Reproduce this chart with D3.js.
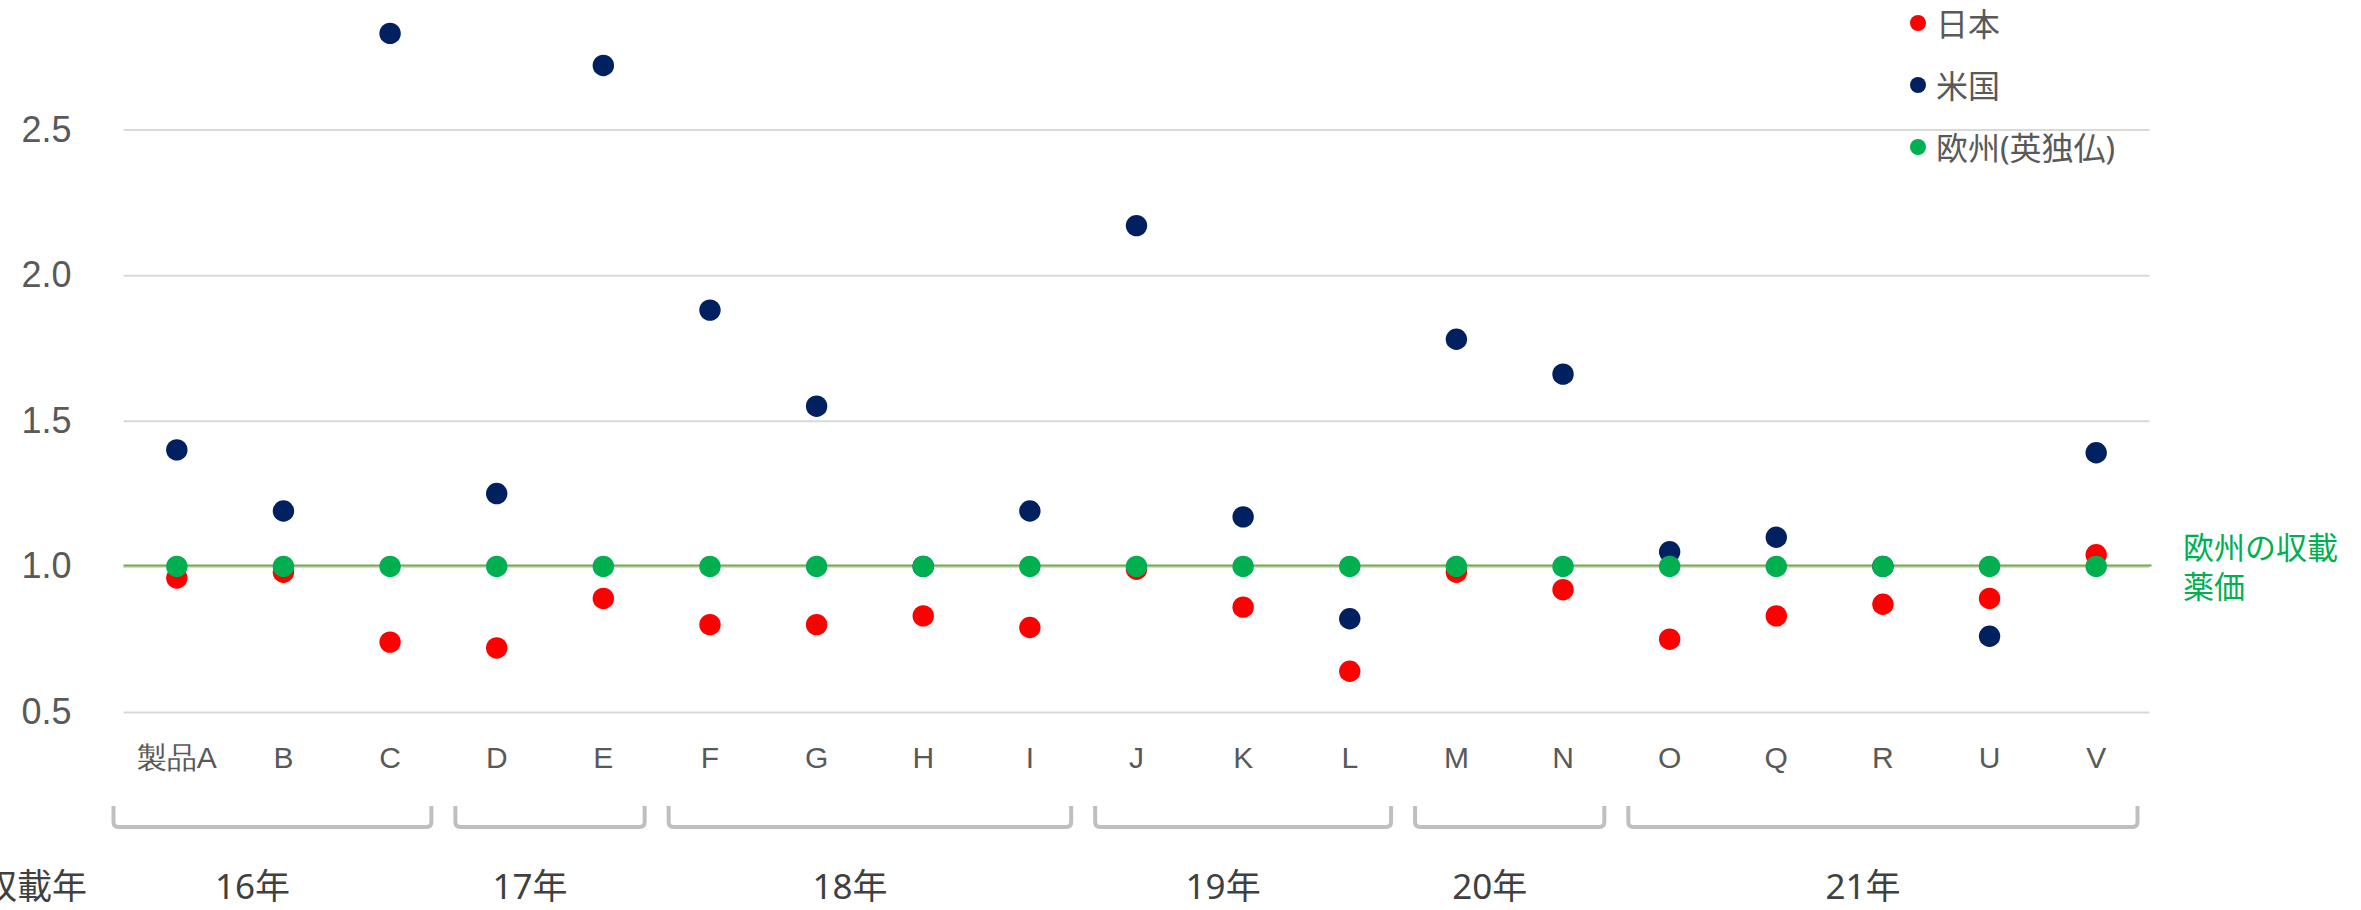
<!DOCTYPE html>
<html>
<head>
<meta charset="utf-8">
<script src="https://cdn.jsdelivr.net/npm/d3@7"></script>
<style>
  body { margin: 0; background: white; }
  svg { display: block; font-family: "Noto Sans", "Noto Sans CJK JP", sans-serif; }
</style>
</head>
<body>
<div id="chart"></div>
<script>
// products on the x axis
var products = ['製品A','B','C','D','E','F','G','H','I','J','K','L','M','N','O','Q','R','U','V'];

// price ratio, Europe = 1.0
var japan  = [0.96, 0.98, 0.74, 0.72, 0.89, 0.80, 0.80, 0.83, 0.79, 0.99, 0.86, 0.64, 0.98, 0.92, 0.75, 0.83, 0.87, 0.89, 1.04];
var usa    = [1.40, 1.19, 2.83, 1.25, 2.72, 1.88, 1.55, 1.00, 1.19, 2.17, 1.17, 0.82, 1.78, 1.66, 1.05, 1.10, 1.00, 0.76, 1.39];
var europe = [1.00, 1.00, 1.00, 1.00, 1.00, 1.00, 1.00, 1.00, 1.00, 1.00, 1.00, 1.00, 1.00, 1.00, 1.00, 1.00, 1.00, 1.00, 1.00];

var seriesNames = ['日本', '米国', '欧州(英独仏)'];
var yTicks = [0.5, 1.0, 1.5, 2.0, 2.5];

// listing year groups
var yearLabels = ['16年', '17年', '18年', '19年', '20年', '21年'];
var yearFirst  = ['製品A', 'D', 'F', 'J', 'M', 'O'];
var yearLast   = ['C', 'E', 'I', 'L', 'N', 'V'];

var width = 2361;
var height = 910;
var left = 123.5;
var right = 2149.5;
var textColor = '#595959';
var colors = ['#ff0000', '#002060', '#00b050'];

var svg = d3.select('#chart').append('svg')
    .attr('width', width)
    .attr('height', height);

var xScale = d3.scaleBand()
    .domain(products)
    .range([left, right]);

var yScale = d3.scaleLinear()
    .domain([0.5, 2.5])
    .range([712, 129.5]);

// gridlines + y labels
var yAxis = d3.axisLeft(yScale)
    .tickValues(yTicks)
    .tickSize(-(right - left))
    .tickPadding(52)
    .tickFormat(d3.format('.1f'));

var gy = svg.append('g')
    .attr('transform', `translate(${left},0)`)
    .call(yAxis);
gy.select('.domain').remove();
gy.selectAll('line').attr('stroke', '#d9d9d9').attr('stroke-width', 2);
gy.selectAll('text')
    .attr('fill', textColor)
    .style('font-size', '36px');

// category labels
var xAxis = d3.axisBottom(xScale).tickSize(0);
var gx = svg.append('g')
    .attr('transform', `translate(0,${yScale(0.5)})`)
    .call(xAxis);
gx.select('.domain').remove();
gx.selectAll('text')
    .attr('dy', null)
    .attr('y', 56)
    .attr('fill', textColor)
    .style('font-size', '30px');

// europe reference line
svg.append('line')
    .attr('x1', left)
    .attr('x2', right + 2)
    .attr('y1', yScale(1) - 1)
    .attr('y2', yScale(1) - 1)
    .attr('stroke', '#70ad47')
    .attr('stroke-width', 2);

// dots
var allSeries = [japan, usa, europe];
allSeries.forEach((vals, i) => {
    svg.append('g')
        .selectAll('circle')
        .data(vals)
        .enter()
        .append('circle')
        .attr('cx', (d, j) => xScale(products[j]) + xScale.bandwidth() / 2)
        .attr('cy', d => yScale(d))
        .attr('r', 10.7)
        .attr('fill', colors[i]);
});

// legend
var legend = svg.append('g').attr('transform', 'translate(1918,23)');
seriesNames.forEach((name, i) => {
    legend.append('circle')
        .attr('cx', 0)
        .attr('cy', i * 62)
        .attr('r', 8)
        .attr('fill', colors[i]);
    legend.append('text')
        .attr('x', 18)
        .attr('y', i * 62)
        .attr('dominant-baseline', 'central')
        .attr('fill', textColor)
        .style('font-size', '32px')
        .text(name);
});

// annotation next to the 1.0 line
var note = svg.append('text')
    .attr('x', 2183)
    .attr('fill', '#00b050')
    .style('font-size', '31px');
note.append('tspan').attr('x', 2183).attr('y', 559).text('欧州の収載');
note.append('tspan').attr('x', 2183).attr('y', 598).text('薬価');

// year brackets
var bTop = 806;
var bBot = 827;
var rad = 5;
yearLabels.forEach((lab, i) => {
    var x0 = xScale(yearFirst[i]) + 12;
    var x1 = xScale(yearLast[i]) + xScale.bandwidth() - 12;
    if (i === 0) x0 = xScale(yearFirst[i]) - 10; // first bracket sticks out past the axis
    var path = d3.path();
    path.moveTo(x0, bTop);
    path.lineTo(x0, bBot - rad);
    path.quadraticCurveTo(x0, bBot, x0 + rad, bBot);
    path.lineTo(x1 - rad, bBot);
    path.quadraticCurveTo(x1, bBot, x1, bBot - rad);
    path.lineTo(x1, bTop);
    svg.append('path')
        .attr('d', path.toString())
        .attr('fill', 'none')
        .attr('stroke', '#bfbfbf')
        .attr('stroke-width', 4);

    svg.append('text')
        .attr('x', (x0 + x1) / 2 - 20)
        .attr('y', 899)
        .attr('text-anchor', 'middle')
        .attr('fill', '#404040')
        .style('font-size', '35px')
        .text(lab);
});

svg.append('text')
    .attr('x', 87)
    .attr('y', 899)
    .attr('text-anchor', 'end')
    .attr('fill', '#404040')
    .style('font-size', '35px')
    .text('収載年');
</script>
</body>
</html>
